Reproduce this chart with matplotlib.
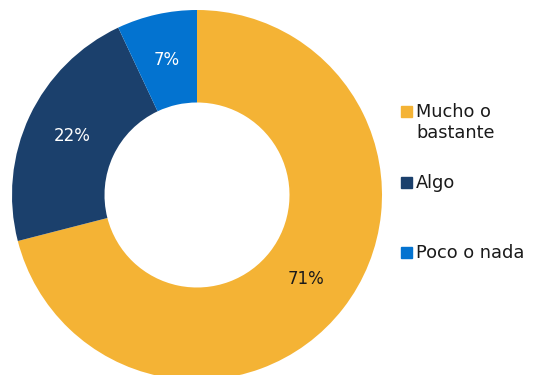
import matplotlib.pyplot as plt
from matplotlib.patches import Rectangle

labels = ["Mucho o\nbastante", "Algo", "Poco o nada"]
values = [71, 22, 7]
colors = ["#F4B335", "#1B406C", "#0373D0"]
pct_colors = ["#1a1a1a", "white", "white"]

W, H = 535, 375
fig = plt.figure(figsize=(W / 100, H / 100), dpi=100)
plt.rcParams["font.family"] = ["DejaVu Sans"]

# donut: center (197, 195) px, radius 185 px
cx, cy, r = 197, 195, 185
ax = fig.add_axes([(cx - r) / W, (H - cy - r) / H, 2 * r / W, 2 * r / H])
wedges, _, autotexts = ax.pie(
    values, colors=colors, startangle=90, counterclock=False,
    radius=1.0, wedgeprops=dict(width=0.5, edgecolor="none"),
    autopct="%d%%", pctdistance=0.745,
    textprops=dict(fontsize=12),
)
for t, c in zip(autotexts, pct_colors):
    t.set_color(c)
ax.set_xlim(-1, 1)
ax.set_ylim(-1, 1)
ax.set_aspect("equal")
ax.axis("off")

# legend drawn by hand
rows = [(106, [117, 138]), (177, [188]), (247, [258])]
for (sq_top, baselines), lab, col in zip(rows, labels, colors):
    fig.patches.append(Rectangle((401 / W, (H - sq_top - 11) / H), 11 / W, 11 / H,
                                 transform=fig.transFigure, color=col))
    for line, b in zip(lab.split("\n"), baselines):
        fig.text(416 / W, (H - b) / H, line, fontsize=12.8, color="#1a1a1a",
                 va="baseline", ha="left")

fig.savefig("out.png", dpi=100)
